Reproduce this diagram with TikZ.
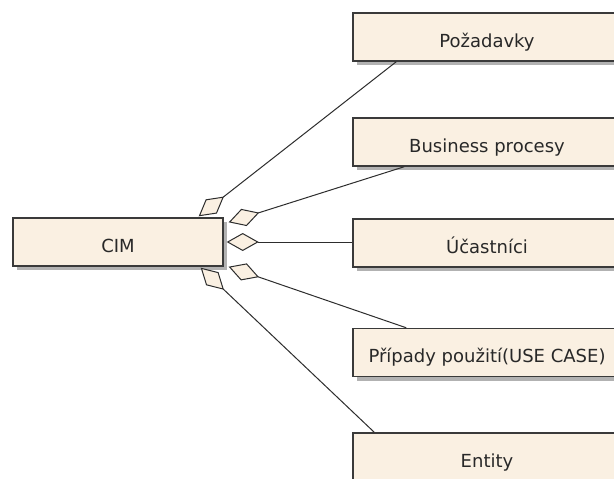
\documentclass[tikz,border=0pt]{standalone}
\usepackage{fontspec}
\setmainfont{DejaVu Sans}
\usetikzlibrary{arrows.meta,shadows,calc}
\definecolor{boxfill}{RGB}{250,240,226}
\definecolor{boxline}{RGB}{58,58,58}
\definecolor{linkline}{RGB}{45,45,45}
\definecolor{textcol}{RGB}{40,40,40}
\definecolor{shadowcol}{RGB}{178,178,178}

\begin{document}
\begin{tikzpicture}[x=1pt,y=-1pt,
  classbox/.style={draw=boxline, line width=1.4pt, fill=boxfill,
    minimum height=48pt, inner sep=0pt, text height=22pt, text depth=2pt,
    font=\fontsize{18}{21}\selectfont, text=textcol,
    drop shadow={shadow xshift=4pt, shadow yshift=-4pt, fill=shadowcol, opacity=1}},
  wide/.style={minimum width=268pt},
  partof/.style={draw=linkline, line width=1pt,
    -{Diamond[length=32pt, width=18pt, fill=boxfill, line width=1pt]}}
]
\useasboundingbox (0,0) rectangle (614,479);
\clip (0,0) rectangle (614,479);
\fill[white] (0,0) rectangle (614,479);

% classes
\node[classbox, minimum width=210pt] (cim) at (118,242) {CIM};
\node[classbox, wide] (req)    at (487,37)    {Požadavky};
\node[classbox, wide] (bp)     at (487,142)   {Business procesy};
\node[classbox, wide] (actors) at (487,243)   {Účastníci};
\node[classbox, wide] (uc)     at (487,352.5) {Případy použití(USE CASE)};
\node[classbox, wide] (ent)    at (487,457)   {Entity};

% aggregations into CIM
\draw[partof] ($(req.south west)+(44,0)$)    -- ($(cim.north east)+(-25,-1)$);
\draw[partof] ($(bp.south west)+(52,0)$)     -- ($(cim.north east)+(5,5)$);
\draw[partof] ($(actors.west)+(0,-1)$)       -- ($(cim.east)+(3,0)$);
\draw[partof] ($(uc.north west)+(54,0)$)     -- ($(cim.south east)+(5,0)$);
\draw[partof] ($(ent.north west)+(22,0)$)    -- ($(cim.south east)+(-23,1)$);
\end{tikzpicture}
\end{document}
